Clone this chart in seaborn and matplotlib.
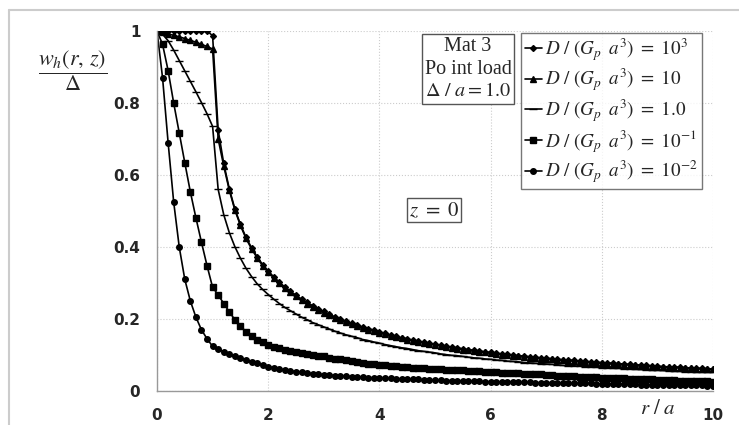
import numpy as np
import pandas as pd
import matplotlib
matplotlib.use('Agg')
import matplotlib.pyplot as plt
import seaborn as sns
from matplotlib.lines import Line2D

# r / a grid (markers every 0.1)
r = np.round(np.arange(0, 101) * 0.1, 1)

# D/(Gp a^3) = 10^3  (diamonds)
w_1e3 = [1.0, 1.0, 1.0, 1.0, 1.0, 1.0, 1.0, 1.0, 1.0, 1.0, 0.987,
         0.725, 0.632, 0.562, 0.506, 0.463, 0.427, 0.398, 0.373, 0.351, 0.333,
         0.317, 0.302, 0.289, 0.277, 0.266, 0.255, 0.246, 0.237, 0.228, 0.221,
         0.213, 0.206, 0.200, 0.194, 0.188, 0.183, 0.178, 0.173, 0.169, 0.164,
         0.160, 0.156, 0.152, 0.148, 0.145, 0.141, 0.138, 0.135, 0.132, 0.130,
         0.127, 0.124, 0.122, 0.120, 0.117, 0.115, 0.113, 0.111, 0.109, 0.107,
         0.105, 0.103, 0.102, 0.100, 0.098, 0.097, 0.095, 0.094, 0.092, 0.091,
         0.090, 0.088, 0.087, 0.086, 0.085, 0.083, 0.082, 0.081, 0.080, 0.079,
         0.078, 0.077, 0.076, 0.075, 0.074, 0.073, 0.072, 0.071, 0.070, 0.069,
         0.068, 0.067, 0.067, 0.066, 0.065, 0.064, 0.063, 0.063, 0.062, 0.061]

# D/(Gp a^3) = 10  (triangles)
w_1e1 = [1.0, 0.996, 0.992, 0.988, 0.984, 0.979, 0.974, 0.969, 0.963, 0.957, 0.950,
         0.700, 0.625, 0.558, 0.503, 0.460, 0.424, 0.395, 0.370, 0.348, 0.330,
         0.314, 0.299, 0.286, 0.274, 0.263, 0.252, 0.243, 0.234, 0.225, 0.218,
         0.210, 0.203, 0.197, 0.191, 0.185, 0.180, 0.175, 0.170, 0.166, 0.161,
         0.157, 0.153, 0.149, 0.146, 0.143, 0.139, 0.136, 0.133, 0.130, 0.128,
         0.125, 0.122, 0.120, 0.118, 0.115, 0.113, 0.111, 0.109, 0.107, 0.105,
         0.103, 0.101, 0.100, 0.098, 0.096, 0.095, 0.093, 0.092, 0.090, 0.089,
         0.088, 0.086, 0.085, 0.084, 0.083, 0.081, 0.080, 0.079, 0.078, 0.077,
         0.076, 0.075, 0.074, 0.073, 0.072, 0.071, 0.070, 0.069, 0.068, 0.067,
         0.067, 0.066, 0.065, 0.064, 0.064, 0.063, 0.062, 0.061, 0.061, 0.060]

# D/(Gp a^3) = 1.0  (dashes)
w_1e0 = [1.0, 0.991, 0.973, 0.947, 0.918, 0.889, 0.860, 0.831, 0.801, 0.770, 0.735,
         0.560, 0.490, 0.440, 0.401, 0.369, 0.341, 0.318, 0.298, 0.282, 0.268,
         0.255, 0.243, 0.232, 0.223, 0.214, 0.205, 0.198, 0.190, 0.184, 0.178,
         0.172, 0.166, 0.161, 0.156, 0.152, 0.148, 0.143, 0.140, 0.136, 0.133,
         0.129, 0.126, 0.123, 0.120, 0.118, 0.115, 0.112, 0.110, 0.108, 0.106,
         0.103, 0.101, 0.099, 0.098, 0.096, 0.094, 0.092, 0.091, 0.089, 0.088,
         0.086, 0.085, 0.083, 0.082, 0.081, 0.079, 0.078, 0.077, 0.076, 0.075,
         0.074, 0.073, 0.071, 0.070, 0.070, 0.069, 0.068, 0.067, 0.066, 0.065,
         0.064, 0.063, 0.063, 0.062, 0.061, 0.060, 0.060, 0.059, 0.058, 0.058,
         0.057, 0.056, 0.056, 0.055, 0.054, 0.054, 0.053, 0.053, 0.052, 0.052]

# D/(Gp a^3) = 10^-1  (squares)
w_1em1 = [1.0, 0.963, 0.890, 0.800, 0.717, 0.634, 0.553, 0.481, 0.413, 0.348, 0.288,
          0.267, 0.243, 0.220, 0.198, 0.180, 0.165, 0.153, 0.143, 0.135, 0.128,
          0.123, 0.119, 0.115, 0.111, 0.108, 0.105, 0.102, 0.100, 0.098, 0.096,
          0.093, 0.090, 0.088, 0.085, 0.083, 0.081, 0.078, 0.076, 0.074, 0.072,
          0.071, 0.070, 0.069, 0.068, 0.066, 0.065, 0.064, 0.063, 0.062, 0.061,
          0.060, 0.059, 0.059, 0.058, 0.057, 0.056, 0.055, 0.055, 0.054, 0.053,
          0.052, 0.051, 0.051, 0.050, 0.049, 0.048, 0.047, 0.047, 0.046, 0.045,
          0.044, 0.043, 0.043, 0.042, 0.041, 0.040, 0.039, 0.039, 0.038, 0.037,
          0.036, 0.036, 0.035, 0.035, 0.034, 0.033, 0.033, 0.032, 0.032, 0.031,
          0.031, 0.030, 0.030, 0.029, 0.029, 0.028, 0.028, 0.027, 0.027, 0.026]

# D/(Gp a^3) = 10^-2  (circles)
w_1em2 = [1.0, 0.870, 0.690, 0.525, 0.400, 0.310, 0.250, 0.205, 0.170, 0.145, 0.124,
          0.116, 0.109, 0.102, 0.096, 0.091, 0.086, 0.081, 0.077, 0.073, 0.068,
          0.064, 0.061, 0.058, 0.056, 0.054, 0.052, 0.050, 0.048, 0.047, 0.045,
          0.044, 0.043, 0.042, 0.041, 0.040, 0.039, 0.038, 0.037, 0.037, 0.036,
          0.035, 0.035, 0.034, 0.034, 0.033, 0.033, 0.032, 0.031, 0.031, 0.030,
          0.030, 0.029, 0.029, 0.028, 0.028, 0.028, 0.027, 0.027, 0.026, 0.026,
          0.026, 0.025, 0.025, 0.025, 0.024, 0.024, 0.024, 0.023, 0.023, 0.023,
          0.022, 0.022, 0.022, 0.022, 0.021, 0.021, 0.021, 0.021, 0.020, 0.020,
          0.020, 0.020, 0.019, 0.019, 0.019, 0.019, 0.018, 0.018, 0.018, 0.018,
          0.017, 0.017, 0.017, 0.017, 0.016, 0.016, 0.016, 0.016, 0.015, 0.015]

lab_pre = r'D\ /\ (G_p\,\ a^3)\ =\ '
labels = ['$' + lab_pre + '10^3$', '$' + lab_pre + '10$', '$' + lab_pre + '1.0$',
          '$' + lab_pre + '10^{-1}$', '$' + lab_pre + '10^{-2}$']
series = [w_1e3, w_1e1, w_1e0, w_1em1, w_1em2]
markers = ['D', '^', '_', 's', 'o']
msizes = [3.0, 4.0, 6, 4.5, 4.0]

sns.set_style('white')
plt.rcParams['mathtext.fontset'] = 'stix'

fig = plt.figure(figsize=(7.39, 4.25), dpi=100)
ax = fig.add_axes([157 / 739, 1 - 391 / 425, 556 / 739, 360 / 425])

for vals, lab, mk, ms in zip(series, labels, markers, msizes):
    df = pd.DataFrame({'r': r, 'w': vals})
    sns.lineplot(data=df, x='r', y='w', ax=ax, color='black', lw=1.2,
                 marker=mk, markersize=ms, markeredgecolor='black',
                 markeredgewidth=1.0, label=lab)

ax.set_xlim(0, 10)
ax.set_ylim(0, 1)
ax.set_xticks([0, 2, 4, 6, 8, 10])
ax.set_yticks([0, 0.2, 0.4, 0.6, 0.8, 1])
ax.set_xticklabels(['0', '2', '4', '6', '8', '10'])
ax.set_yticklabels(['0', '0.2', '0.4', '0.6', '0.8', '1'])
ax.tick_params(axis='both', length=4, width=0.8, color='#999999',
               labelsize=11, pad=8)
for t in ax.get_xticklabels() + ax.get_yticklabels():
    t.set_fontweight('bold')
ax.grid(True, color='#cccccc', linestyle=':', lw=0.8)
for s in ['top', 'right']:
    ax.spines[s].set_visible(False)
for s in ['left', 'bottom']:
    ax.spines[s].set_color('#999999')
    ax.spines[s].set_linewidth(1.0)
ax.set_xlabel('')
ax.set_ylabel('')

leg = ax.legend(loc='upper left', bbox_to_anchor=((521 - 157) / 556, 0.995),
                fontsize=13.8, frameon=True, fancybox=False, handlelength=0.9,
                handletextpad=0.15, borderpad=0.2, labelspacing=0.22,
                borderaxespad=0)
leg.get_frame().set_edgecolor('#555555')
leg.get_frame().set_linewidth(1.0)

# info box
ax.text((468 - 157) / 556, (391 - 69) / 360,
        'Mat 3\nPo int load\n' + r'$\Delta\ /\ a = 1.0$',
        transform=ax.transAxes, ha='center', va='center', fontsize=14.5,
        family='Liberation Serif', linespacing=1.25,
        bbox=dict(boxstyle='square,pad=0.15', fc='white', ec='#555555', lw=1.0))

ax.text((434 - 157) / 556, (391 - 210) / 360, r'$z\ =\ 0$',
        transform=ax.transAxes, ha='center', va='center', fontsize=15,
        bbox=dict(boxstyle='square,pad=0.1', fc='white', ec='#555555', lw=1.0))

# axis labels
fig.text(73 / 739, 1 - 71 / 425, r'$\dfrac{w_h(r,\,z)}{\Delta}$',
         ha='center', va='center', fontsize=16)
fig.text(658 / 739, 1 - 408 / 425, r'$r\ /\ a$', ha='center', va='center',
         fontsize=15)

# outer chart border (only top and left inside the picture)
fig.add_artist(Line2D([9 / 739, 9 / 739], [0, 1 - 10 / 425], color='#cccccc', lw=1.5))
fig.add_artist(Line2D([9 / 739, 1], [1 - 10 / 425, 1 - 10 / 425], color='#cccccc', lw=1.5))

fig.savefig('out.png', dpi=100)
